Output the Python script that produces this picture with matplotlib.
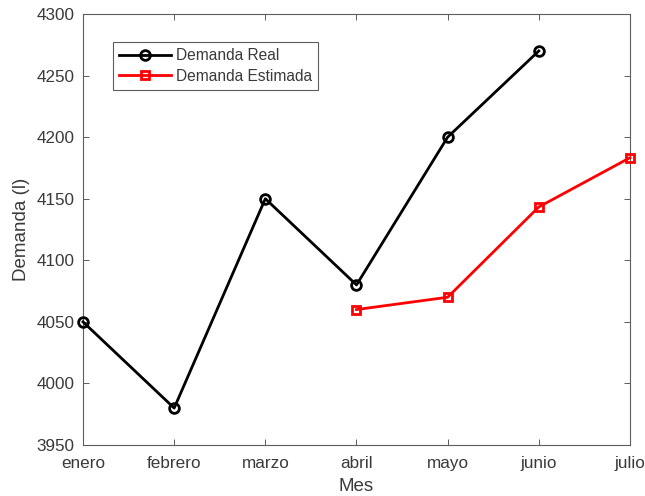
import numpy as np
import matplotlib
matplotlib.use('Agg')
import matplotlib.pyplot as plt

plt.rcParams['font.family'] = ['Liberation Sans', 'DejaVu Sans']

meses = ['enero', 'febrero', 'marzo', 'abril', 'mayo', 'junio', 'julio']
real_x = [1, 2, 3, 4, 5, 6]
real_y = [4050, 3980, 4150, 4080, 4200, 4270]
est_x = [4, 5, 6, 7]
est_y = [4060, 4070, 4143.3, 4183.3]

texto = '#3a3a3a'
borde = '#5c5c5c'

fig = plt.figure(figsize=(6.45, 4.96), dpi=100)
ax = fig.add_axes([0.1287, 0.1028, 0.848, 0.869])

ax.plot(real_x, real_y, color='black', lw=2, marker='o', ms=7,
        mfc='none', mew=2, label='Demanda Real', clip_on=False, zorder=3)
ax.plot(est_x, est_y, color='red', lw=2, marker='s', ms=5.5,
        mfc='none', mew=2, label='Demanda Estimada', clip_on=False, zorder=3)

ax.set_xlim(1, 7)
ax.set_ylim(3950, 4300)
ax.set_xticks(range(1, 8))
ax.set_xticklabels(meses)
ax.set_yticks(np.arange(3950, 4301, 50))

ax.tick_params(direction='in', top=True, right=True, length=4, width=0.7,
               color=borde, labelcolor=texto, labelsize=12.3)
ax.tick_params(axis='x', pad=8)
ax.tick_params(axis='y', pad=6)
for s in ax.spines.values():
    s.set_color(borde)
    s.set_linewidth(0.8)

ax.set_xlabel('Mes', fontsize=13.5, color=texto, labelpad=5)
ax.set_ylabel('Demanda (l)', fontsize=13.5, color=texto, labelpad=5)

leg = ax.legend(loc='upper left', bbox_to_anchor=(0.055, 0.935),
                borderaxespad=0, fancybox=False, framealpha=1,
                edgecolor=borde, fontsize=11.2, handlelength=3.3,
                handletextpad=0.35, labelspacing=0.35, borderpad=0.4)
leg.get_frame().set_linewidth(0.8)
for t in leg.get_texts():
    t.set_color(texto)

fig.savefig('out.png', dpi=100)
